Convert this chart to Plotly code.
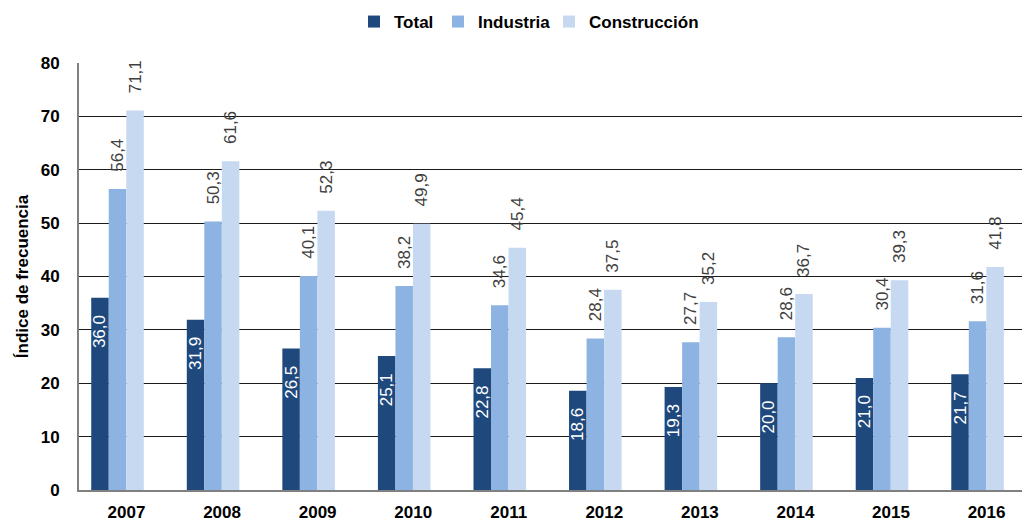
import plotly.graph_objects as go

years = ["2007", "2008", "2009", "2010", "2011", "2012", "2013", "2014", "2015", "2016"]
total = [36.0, 31.9, 26.5, 25.1, 22.8, 18.6, 19.3, 20.0, 21.0, 21.7]
industria = [56.4, 50.3, 40.1, 38.2, 34.6, 28.4, 27.7, 28.6, 30.4, 31.6]
construccion = [71.1, 61.6, 52.3, 49.9, 45.4, 37.5, 35.2, 36.7, 39.3, 41.8]

FONT = "Liberation Sans, Arial, Helvetica, sans-serif"
NB = "\u00a0"


def fmt(v):
    return f"{v:.1f}".replace(".", ",")


fig = go.Figure()
fig.add_trace(go.Bar(
    name="Total", x=years, y=total, legend="legend", showlegend=True,
    marker=dict(color="#1F497D", line=dict(width=0)),
    text=[fmt(v) + NB * 3 for v in total],
    textposition="inside", insidetextanchor="end", textangle=-90,
    textfont=dict(color="white", size=17, family=FONT),
    constraintext="none", cliponaxis=False,
))
fig.add_trace(go.Bar(
    name="Industria", x=years, y=industria, legend="legend2", showlegend=True,
    marker=dict(color="#8DB3E2", line=dict(width=0)),
    text=[NB * 3 + fmt(v) for v in industria],
    textposition="outside", textangle=-90,
    textfont=dict(color="#404040", size=17, family=FONT),
    constraintext="none", cliponaxis=False,
))
fig.add_trace(go.Bar(
    name="Construcción", x=years, y=construccion, legend="legend3", showlegend=True,
    marker=dict(color="#C6D9F1", line=dict(width=0)),
    text=[NB * 3 + fmt(v) for v in construccion],
    textposition="outside", textangle=-90,
    textfont=dict(color="#404040", size=17, family=FONT),
    constraintext="none", cliponaxis=False,
))


def leg(xpix):
    return dict(
        orientation="h", xref="container", yref="container",
        x=xpix / 1022, xanchor="left", y=1 - 22 / 521, yanchor="middle",
        font=dict(size=17, family=FONT, weight="bold", color="#000"),
        itemwidth=30, bgcolor="rgba(0,0,0,0)", borderwidth=0,
    )


fig.update_layout(
    width=1022, height=521,
    showlegend=True,
    margin=dict(l=79, r=0, t=63, b=31, autoexpand=False),
    paper_bgcolor="white", plot_bgcolor="white",
    barmode="group", bargap=0.45, bargroupgap=0,
    font=dict(family=FONT, color="#000000"),
    uniformtext=dict(minsize=17, mode="show"),
    legend=leg(354),
    legend2=leg(438),
    legend3=leg(549),
    xaxis=dict(
        type="category", range=[-0.403, 9.465], automargin=False,
        showline=True, linecolor="#808080", linewidth=2,
        showgrid=False, ticks="outside", ticklen=6, tickcolor="rgba(0,0,0,0)",
        tickfont=dict(size=17, family=FONT, weight="bold", color="#000"),
        ticklabelshift=9,
    ),
    yaxis=dict(
        range=[0, 80], dtick=10, tick0=0, automargin=False,
        showline=True, linecolor="#808080", linewidth=2,
        showgrid=True, gridcolor="#1a1a1a", gridwidth=1,
        zeroline=False,
        ticks="outside", ticklen=14, tickcolor="rgba(0,0,0,0)",
        tickfont=dict(size=17, family=FONT, weight="bold", color="#000"),
        title=dict(text="Índice de frecuencia", standoff=8,
                   font=dict(size=17, family=FONT, weight="bold", color="#000")),
    ),
)

fig.write_html(
    "out.html",
    config={"displayModeBar": False},
    post_script="document.body.style.margin='0';document.body.style.padding='0';",
)
